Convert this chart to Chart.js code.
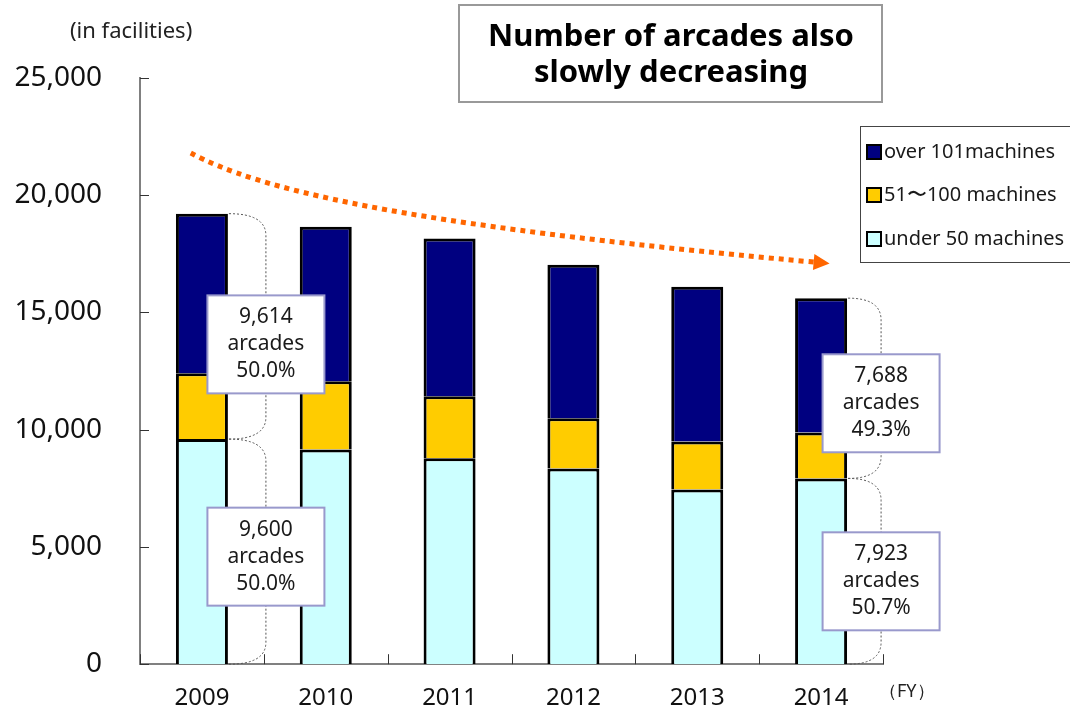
<!DOCTYPE html>
<html>
<head>
<meta charset="utf-8">
<script src="https://cdn.jsdelivr.net/npm/chart.js@4.4.0/dist/chart.umd.min.js"></script>
<style>
  html, body { margin: 0; padding: 0; background: #fff; }
  #wrap { width: 1070px; height: 711px; position: relative; }
</style>
</head>
<body>
<div id="wrap"><canvas id="chart"></canvas></div>
<script>
// values (facilities)
const years = ['2009', '2010', '2011', '2012', '2013', '2014'];
const under50 = [9600, 9160, 8780, 8350, 7450, 7923];
const mid51to100 = [2810, 2910, 2650, 2140, 2050, 1960];
const over101 = [6804, 6590, 6720, 6550, 6600, 5728];
const seriesNames = ['under 50 machines', '51\u301c100 machines', 'over 101machines'];
const yTicks = [0, 5000, 10000, 15000, 20000, 25000];

// callouts next to the first and last bar: which bar, which part, text
const calloutBar = [0, 0, 5, 5];
const calloutPart = ['upper', 'lower', 'upper', 'lower'];
const calloutText = [
  ['9,614', 'arcades', '50.0%'],
  ['9,600', 'arcades', '50.0%'],
  ['7,688', 'arcades', '49.3%'],
  ['7,923', 'arcades', '50.7%']
];
// trend arrow path in (category index, value) space
const trendX = [-0.09, 0.45, 1.5, 4.94];
const trendY = [21800, 20300, 18800, 17150];

const FONT = "'Noto Sans', 'DejaVu Sans', sans-serif";
const colors = ['#CCFFFF', '#FFCC00', '#000080'];

const totals = years.map((_, i) => under50[i] + mid51to100[i] + over101[i]);

const overlay = {
  id: 'overlay',
  afterDraw(chart) {
    const { ctx, chartArea: a, scales: { x, y } } = chart;
    ctx.save();

    // inside tick marks
    ctx.strokeStyle = '#333';
    ctx.lineWidth = 1;
    yTicks.forEach(v => {
      const py = Math.round(y.getPixelForValue(v)) + 0.5;
      ctx.beginPath(); ctx.moveTo(a.left, py); ctx.lineTo(a.left + 9, py); ctx.stroke();
    });
    for (let i = 0; i <= years.length; i++) {
      let px;
      if (i === 0) px = a.left;
      else if (i === years.length) px = a.right;
      else px = (x.getPixelForValue(i - 1) + x.getPixelForValue(i)) / 2;
      px = Math.round(px) + 0.5;
      ctx.beginPath(); ctx.moveTo(px, a.bottom); ctx.lineTo(px, a.bottom - 10); ctx.stroke();
    }

    // unit labels
    ctx.fillStyle = '#222';
    ctx.font = '22px ' + FONT;
    ctx.textAlign = 'left';
    ctx.textBaseline = 'middle';
    ctx.fillText('(in facilities)', 70, 32);
    ctx.font = '18px ' + FONT;
    ctx.fillText('\uff08FY\uff09', a.right - 4, 692);

    // braces and callout boxes
    const meta = chart.getDatasetMeta(0);
    calloutBar.forEach((bi, k) => {
      const bar = meta.data[bi];
      const cx = bar.x;
      const xl = cx + bar.width / 2 + 1;
      const xr = cx + [64, 64, 60, 60][k];
      const lo = calloutPart[k] === 'upper' ? under50[bi] : 0;
      const hi = calloutPart[k] === 'upper' ? totals[bi] : under50[bi];
      const yt = y.getPixelForValue(hi);
      const yb = y.getPixelForValue(lo);
      const r = 22;
      ctx.strokeStyle = '#555';
      ctx.lineWidth = 1;
      ctx.setLineDash([2, 2]);
      ctx.beginPath();
      ctx.moveTo(xl, yt);
      ctx.quadraticCurveTo(xr, yt, xr, yt + r);
      ctx.lineTo(xr, yb - r);
      ctx.quadraticCurveTo(xr, yb, xl, yb);
      ctx.stroke();
      ctx.setLineDash([]);

      const dy = [18, 5, 15, 10][k];
      const bw = 117, bh = 98;
      const by = (yt + yb) / 2 + dy;
      ctx.fillStyle = '#fff';
      ctx.fillRect(xr - bw / 2, by - bh / 2, bw, bh);
      ctx.strokeStyle = '#9999CC';
      ctx.lineWidth = 2;
      ctx.strokeRect(xr - bw / 2, by - bh / 2, bw, bh);
      ctx.fillStyle = '#1a1a1a';
      ctx.font = '21px ' + FONT;
      ctx.textAlign = 'center';
      ctx.textBaseline = 'middle';
      calloutText[k].forEach((t, j) => ctx.fillText(t, xr, by + (j - 1) * 27));
    });

    // dotted trend arrow
    const step = x.getPixelForValue(1) - x.getPixelForValue(0);
    const px = trendX.map(v => x.getPixelForValue(0) + v * step);
    const py = trendY.map(v => y.getPixelForValue(v));
    ctx.strokeStyle = '#FF6600';
    ctx.fillStyle = '#FF6600';
    ctx.lineWidth = 5;
    ctx.setLineDash([5, 5]);
    ctx.beginPath();
    ctx.moveTo(px[0], py[0]);
    ctx.bezierCurveTo(px[1], py[1], px[2], py[2], px[3], py[3]);
    ctx.stroke();
    ctx.setLineDash([]);
    const ang = Math.atan2(py[3] - py[2], px[3] - px[2]);
    const tipX = px[3] + 16 * Math.cos(ang), tipY = py[3] + 16 * Math.sin(ang);
    ctx.save();
    ctx.translate(tipX, tipY);
    ctx.rotate(ang);
    ctx.beginPath();
    ctx.moveTo(0, 0); ctx.lineTo(-16, -8); ctx.lineTo(-16, 8); ctx.closePath();
    ctx.fill();
    ctx.restore();

    // title box
    ctx.fillStyle = '#fff';
    ctx.fillRect(459, 5, 423, 97);
    ctx.strokeStyle = '#999';
    ctx.lineWidth = 2;
    ctx.strokeRect(459, 5, 423, 97);
    ctx.fillStyle = '#000';
    ctx.font = 'bold 31px ' + FONT;
    ctx.textAlign = 'center';
    ctx.fillText('Number of arcades also', 671, 37);
    ctx.fillText('slowly decreasing', 671, 73);

    // legend box
    ctx.fillStyle = '#fff';
    ctx.fillRect(860, 126, 220, 136);
    ctx.strokeStyle = '#444';
    ctx.lineWidth = 1;
    ctx.strokeRect(860.5, 126.5, 220, 136);
    const ds = chart.data.datasets;
    const rows = [2, 1, 0];
    const rowY = [152, 195, 239];
    ctx.font = '20px ' + FONT;
    ctx.textAlign = 'left';
    rows.forEach((d, j) => {
      ctx.fillStyle = ds[d].backgroundColor;
      ctx.fillRect(867, rowY[j] - 7, 14, 14);
      ctx.strokeStyle = '#000';
      ctx.lineWidth = 2;
      ctx.strokeRect(867, rowY[j] - 7, 14, 14);
      ctx.fillStyle = '#1a1a1a';
      ctx.fillText(ds[d].label, 884, rowY[j]);
    });

    ctx.restore();
  }
};

new Chart(document.getElementById('chart'), {
  type: 'bar',
  data: {
    labels: years,
    datasets: [
      { label: seriesNames[0], data: under50, backgroundColor: colors[0] },
      { label: seriesNames[1], data: mid51to100, backgroundColor: colors[1] },
      { label: seriesNames[2], data: over101, backgroundColor: colors[2] }
    ].map(d => Object.assign(d, {
      borderColor: '#000',
      borderWidth: 3,
      barPercentage: 0.42,
      categoryPercentage: 1
    }))
  },
  options: {
    responsive: true,
    maintainAspectRatio: false,
    animation: false,
    layout: { padding: { top: 78, right: 187, left: 0, bottom: 0 } },
    plugins: { legend: { display: false }, tooltip: { enabled: false } },
    scales: {
      x: {
        stacked: true,
        grid: { display: false },
        border: { display: true, color: '#808080', width: 2 },
        ticks: { color: '#111', padding: 12, font: { family: FONT, size: 24 } },
        afterFit: s => { s.height = 45; }
      },
      y: {
        stacked: true,
        min: 0,
        max: 25000,
        grid: { display: false },
        border: { display: true, color: '#808080', width: 2 },
        afterBuildTicks: s => { s.ticks = yTicks.map(v => ({ value: v })); },
        ticks: {
          color: '#111',
          padding: 30,
          font: { family: FONT, size: 28 },
          callback: v => v.toLocaleString('en-US')
        },
        afterFit: s => { s.width = 140; }
      }
    }
  },
  plugins: [overlay]
});
</script>
</body>
</html>
